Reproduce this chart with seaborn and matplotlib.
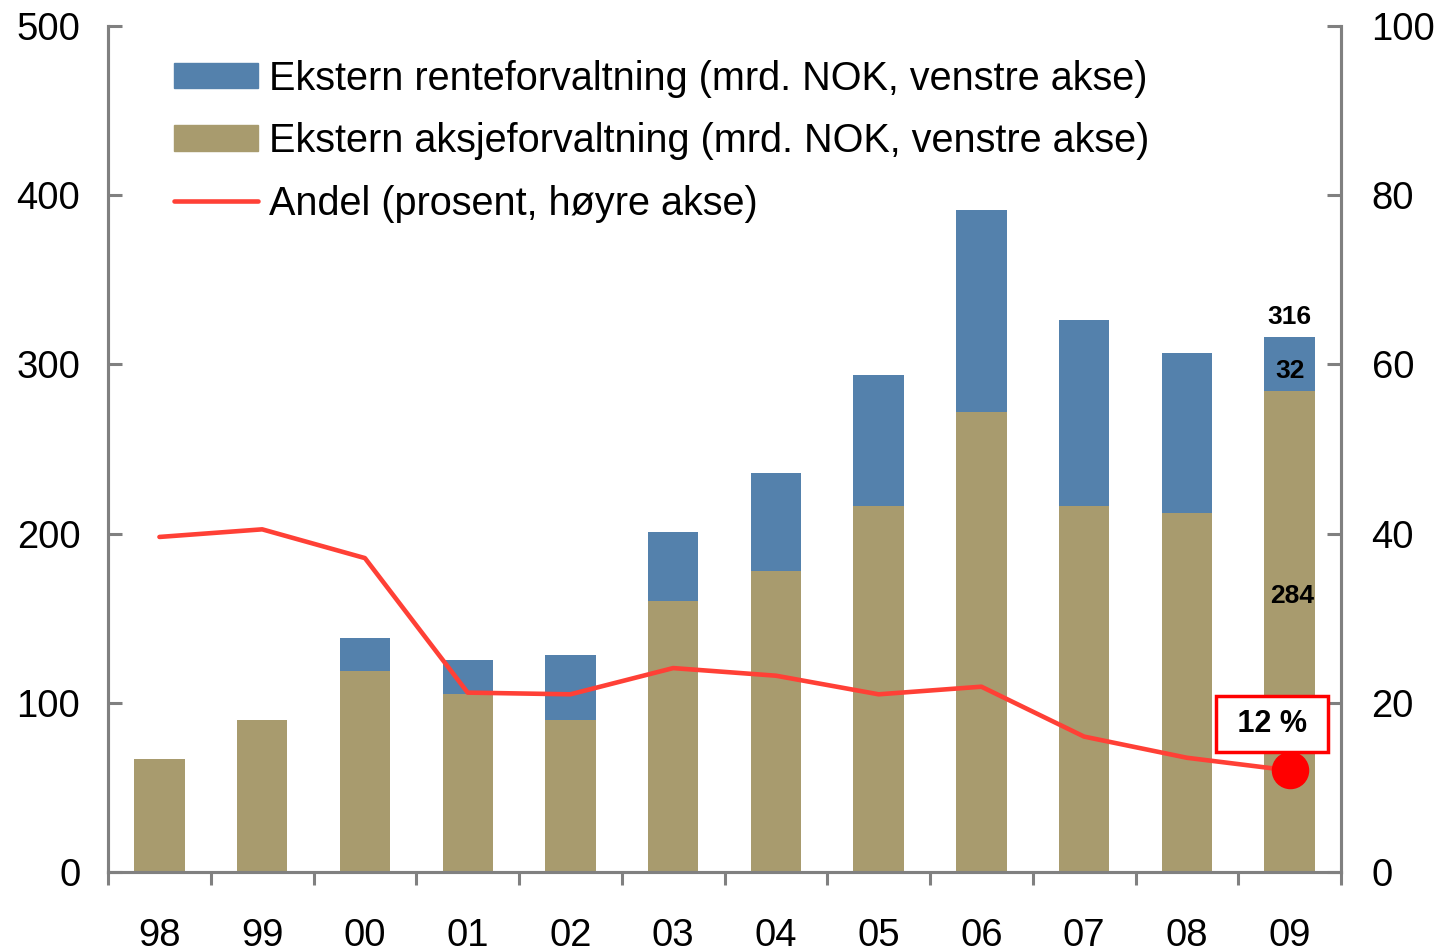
import numpy as np
import pandas as pd
import matplotlib
matplotlib.use('Agg')
import matplotlib.pyplot as plt
import matplotlib.patches as mpatches
import matplotlib.lines as mlines
import seaborn as sns

# Data
years = ['98', '99', '00', '01', '02', '03', '04', '05', '06', '07', '08', '09']
aksje = [67, 90, 119, 105, 90, 160, 178, 216, 272, 216, 212, 284]
rente = [0, 0, 19, 20, 38, 41, 58, 78, 119, 110, 95, 32]
andel = [39.6, 40.5, 37.1, 21.2, 21.0, 24.1, 23.2, 21.0, 21.9, 16.0, 13.5, 12.0]

df = pd.DataFrame({'year': years, 'aksje': aksje, 'rente': rente, 'andel': andel})
df['total'] = df['aksje'] + df['rente']
df['pos'] = np.arange(len(df))

sns.set_style('white')
plt.rcParams['font.family'] = ['Liberation Sans', 'DejaVu Sans']
plt.rcParams['text.color'] = 'black'

blue = '#5481AC'
tan = '#A89B6E'
red_line = '#FF4036'
grey = '#808080'

fig = plt.figure(figsize=(14.41, 9.51), dpi=100)
ax = fig.add_axes([0.075, 0.0831, 0.8556, 0.8896])

# stablede søyler: total (blå) bak, aksjer (brun) foran
sns.barplot(data=df, x='year', y='total', color=blue, width=0.49, saturation=1,
            linewidth=0, ax=ax)
sns.barplot(data=df, x='year', y='aksje', color=tan, width=0.49, saturation=1,
            linewidth=0, ax=ax)
ax.set_xlim(-0.5, len(years) - 0.5)
ax.set_ylim(0, 500)
ax.set_yticks([0, 100, 200, 300, 400, 500])
ax.set_xlabel('')
ax.set_ylabel('')

ax2 = ax.twinx()
sns.lineplot(data=df, x='pos', y='andel', color=red_line, linewidth=3.3, ax=ax2)
ax2.plot(df['pos'].iloc[-1], df['andel'].iloc[-1], 'o', color='#FF0000',
         markersize=26, zorder=5)
ax2.set_ylim(0, 100)
ax2.set_yticks([0, 20, 40, 60, 80, 100])
ax2.set_xlim(-0.5, len(years) - 0.5)
ax2.set_xlabel('')
ax2.set_ylabel('')

# Spines and ticks
for a in (ax, ax2):
    for s in a.spines.values():
        s.set_color(grey)
        s.set_linewidth(2.2)
    a.spines['top'].set_visible(False)

ax.set_xticks(np.arange(-0.5, len(years), 1.0))
ax.set_xticklabels([])
ax.set_xticks(np.arange(len(years)), minor=True)
ax.set_xticklabels(years, minor=True)
ax.tick_params(axis='x', which='major', direction='out', length=9, width=2.2,
               color=grey, bottom=True)
ax.tick_params(axis='x', which='minor', length=0, labelsize=27.5, pad=33,
               labelcolor='black')
ax.tick_params(axis='y', direction='in', length=10, width=2.2, color=grey,
               left=True, labelsize=27.5, pad=20, labelcolor='black')
ax2.tick_params(axis='y', direction='in', length=10, width=2.2, color=grey,
                right=True, labelsize=27.5, pad=22, labelcolor='black')
ax2.tick_params(axis='x', bottom=False, labelbottom=False)

# Labels on last bar
last = len(years) - 1
ax.text(last, df['total'].iloc[-1] + 5, str(df['total'].iloc[-1]), ha='center',
        va='bottom', fontsize=19, fontweight='bold')
ax.text(last, df['aksje'].iloc[-1] + df['rente'].iloc[-1] / 2 - 4, str(df['rente'].iloc[-1]),
        ha='center', va='center', fontsize=19, fontweight='bold')
ax.text(last + 0.02, df['aksje'].iloc[-1] * 0.575, str(df['aksje'].iloc[-1]),
        ha='center', va='center', fontsize=19, fontweight='bold')
ax2.text(last - 0.17, df['andel'].iloc[-1] + 5.5, ' 12 % ', ha='center', va='center',
         fontsize=22, fontweight='bold', zorder=6,
         bbox=dict(boxstyle='square,pad=0.42', facecolor='white', edgecolor='#FF0000',
                   linewidth=2.5))

# Legend
handles = [
    mpatches.Patch(color=blue, label='Ekstern renteforvaltning (mrd. NOK, venstre akse)'),
    mpatches.Patch(color=tan, label='Ekstern aksjeforvaltning (mrd. NOK, venstre akse)'),
    mlines.Line2D([], [], color=red_line, linewidth=3.3, label='Andel (prosent, høyre akse)'),
]
ax2.legend(handles=handles, loc='upper left', bbox_to_anchor=(0.0406, 0.979),
           frameon=False, fontsize=28.5, handlelength=2.12, handleheight=0.62,
           handletextpad=0.28, labelspacing=0.62, borderaxespad=0)

fig.savefig('out.png', dpi=100)
